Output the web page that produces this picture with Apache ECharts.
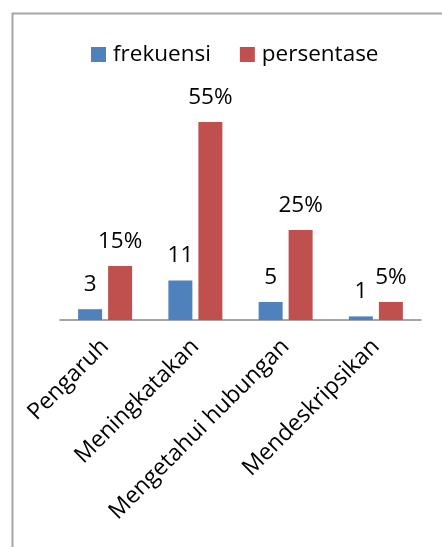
<!DOCTYPE html>
<html><head><meta charset="utf-8">
<script src="https://cdn.jsdelivr.net/npm/echarts@6/dist/echarts.min.js"></script>
<style>html,body{margin:0;padding:0;background:#fff}#c{width:442px;height:547px}</style>
</head><body><div id="c"></div>
<script>
const categories = ['Pengaruh', 'Meningkatakan', 'Mengetahui hubungan', 'Mendeskripsikan'];
const frekuensi = [3, 11, 5, 1];
const persentase = [15, 55, 25, 5];
const seriesNames = ['frekuensi', 'persentase'];

const font = 'Open Sans';
const chart = echarts.init(document.getElementById('c'));
chart.setOption({
  animation: false,
  textStyle: { fontFamily: font },
  graphic: [{
    type: 'rect', left: 10, top: 11, silent: true,
    shape: { width: 460, height: 560 },
    style: { fill: 'none', stroke: '#a6a6a6', lineWidth: 2 }
  }],
  legend: {
    left: 86, top: 38, itemWidth: 15, itemHeight: 15, itemGap: 29,
    icon: 'rect',
    textStyle: { fontSize: 22.5, color: '#000', fontFamily: font, padding: [0, 0, 0, 2] },
    data: seriesNames
  },
  grid: { left: 60, right: 21, top: 104, bottom: 227, containLabel: false },
  xAxis: {
    type: 'category', data: categories,
    axisLine: { show: true, lineStyle: { color: '#888', width: 1.5 } },
    axisTick: { show: false },
    axisLabel: { rotate: 45, fontSize: 23, color: '#000', margin: 23, interval: 0, fontFamily: font }
  },
  yAxis: { type: 'value', min: 0, max: 60, show: false, splitLine: { show: false } },
  series: [
    {
      name: seriesNames[0], type: 'bar', data: frekuensi, barWidth: 24, barGap: '25%',
      itemStyle: { color: '#4F81BD' },
      label: { show: true, position: 'top', distance: 13, fontSize: 22.5, color: '#000', fontFamily: font }
    },
    {
      name: seriesNames[1], type: 'bar', data: persentase, barWidth: 24, barGap: '25%',
      itemStyle: { color: '#C0504D' },
      label: { show: true, position: 'top', distance: 13, fontSize: 22.5, color: '#000', fontFamily: font, formatter: '{c}%' }
    }
  ]
});
</script></body></html>
